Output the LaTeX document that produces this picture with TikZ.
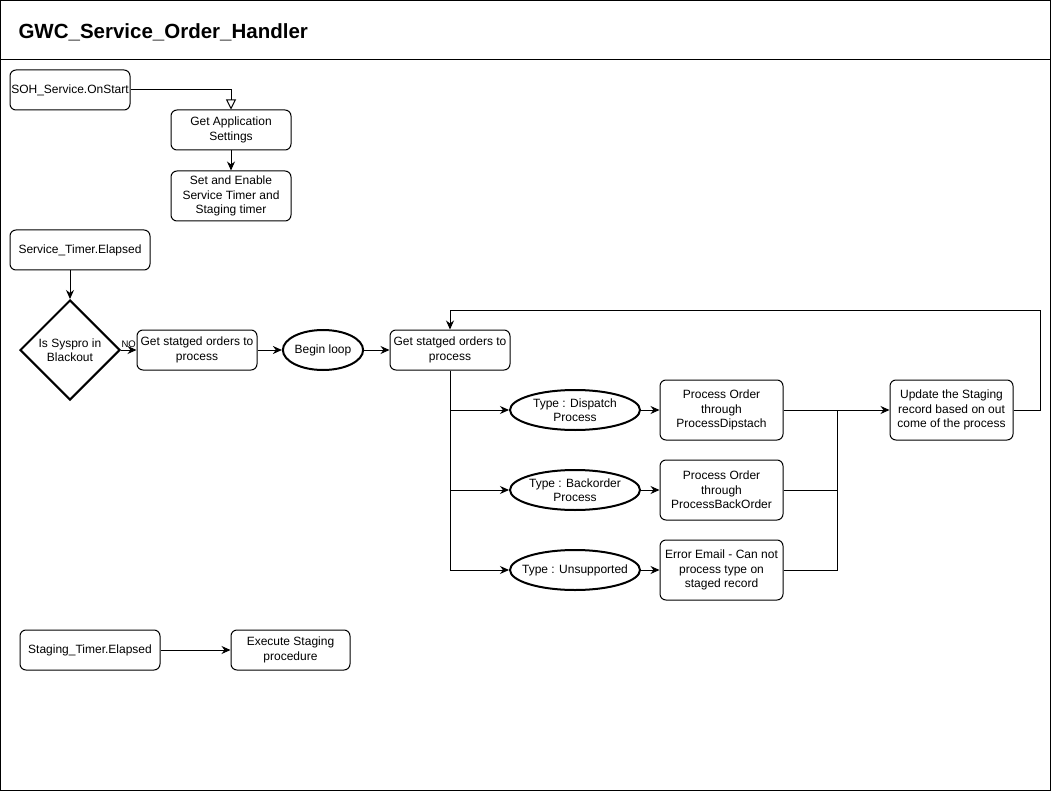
\documentclass[tikz,border=0pt]{standalone}
\usepackage{fontspec}
\setmainfont{Liberation Sans}
\usepackage{tikz}
\usetikzlibrary{arrows.meta,positioning,calc,shapes.geometric}
\definecolor{lineC}{RGB}{0,0,0}
\tikzset{
  box/.style={rectangle, rounded corners=6pt, draw=lineC, line width=1pt, fill=white,
              align=center, inner sep=1pt, font=\fontsize{12}{14.5}\selectfont,
              minimum width=120pt, minimum height=40pt},
  oval/.style={ellipse, draw=lineC, line width=2pt, fill=white, align=center, inner sep=0pt,
               font=\fontsize{12}{14.5}\selectfont, minimum width=130pt, minimum height=40pt},
  decision/.style={diamond, draw=lineC, line width=2pt, fill=white, align=center, inner sep=0pt,
                   font=\fontsize{12}{14.5}\selectfont, minimum width=100pt, minimum height=100pt},
  arr/.style={-{Stealth[length=9pt,width=8pt]}, line width=1pt, draw=lineC},
  openarr/.style={-{Triangle[open,length=10pt,width=10pt]}, line width=1pt, draw=lineC},
  link/.style={line width=1pt, draw=lineC},
}
\begin{document}
\begin{tikzpicture}[x=1pt, y=-1pt, node distance=20pt]
  \useasboundingbox (0,0) rectangle (1051,791);
  \draw[link] (0.5,0.5) rectangle (1050.5,790.5);
  \draw[link] (0.5,60) -- (1050.5,60);
  \node[anchor=west, font=\fontsize{20.5}{24}\selectfont\bfseries] (title) at (15,32) {GWC\_Service\_Order\_Handler};

  % start-up
  \node[box] (onstart) at (70,90) {SOH\_Service.OnStart};
  \node[box] (settings) at (231,130) {Get Application\\Settings};
  \node[box, minimum height=50pt, below=of settings] (enable) {Set and Enable\\Service Timer and\\Staging timer};
  \draw[openarr] (onstart.east) -| (settings.north);
  \draw[arr] (settings) -- (enable);

  % service timer
  \node[box, minimum width=140pt] (svctimer) at (80,250) {Service\_Timer.Elapsed};
  \node[decision] (blackout) at (70,350) {Is Syspro in\\Blackout};
  \node[box] (fetch) at (197,350) {Get statged orders to\\process};
  \node[oval, minimum width=80pt] (beginloop) at (323,350) {Begin loop};
  \node[box] (fetchtwo) at (450,350) {Get statged orders to\\process};
  \draw[arr] (blackout.north |- svctimer.south) -- (blackout.north);
  \draw[arr] (blackout.east) -- (fetch.west) node[pos=0, anchor=south west, inner sep=0pt, yshift=2pt,
    font=\fontsize{9.5}{11}\selectfont] {NO};
  \draw[arr] (fetch) -- (beginloop);
  \draw[arr] (beginloop) -- (fetchtwo);

  % order types
  \node[oval] (dispatch) at (575,410) {Type : Dispatch\\Process};
  \node[oval] (backorder) at (575,490) {Type : Backorder\\Process};
  \node[oval, inner xsep=-13pt] (unsupported) at (575,570) {Type : Unsupported};
  \node[box, minimum width=123pt, minimum height=60pt] (procdispatch) at (721.5,410) {Process Order\\through\\ProcessDipstach};
  \node[box, minimum width=123pt, minimum height=60pt] (procback) at (721.5,490) {Process Order\\through\\ProcessBackOrder};
  \node[box, minimum width=123pt, minimum height=60pt] (procerror) at (721.5,570) {Error Email - Can not\\process type on\\staged record};
  \node[box, minimum width=123pt, minimum height=60pt] (update) at (951.5,410) {Update the Staging\\record based on out\\come of the process};
  \coordinate (merge) at (837,410);
  \coordinate (looptop) at (1040,310);
  \draw[arr] (fetchtwo.south) |- (dispatch.west);
  \draw[arr] (fetchtwo.south) |- (backorder.west);
  \draw[arr] (fetchtwo.south) |- (unsupported.west);
  \draw[arr] (dispatch) -- (procdispatch);
  \draw[arr] (backorder) -- (procback);
  \draw[arr] (unsupported) -- (procerror);
  \draw[arr] (procdispatch) -- (update);
  \draw[link] (procback.east) -| (merge);
  \draw[link] (procerror.east) -| (merge);
  \draw[arr] (update.east) -| (looptop) -| (fetchtwo.north);

  % staging timer
  \node[box, minimum width=140pt] (stgtimer) at (90,650) {Staging\_Timer.Elapsed};
  \node[box, minimum width=119pt] (execstage) at (290.5,650) {Execute Staging\\procedure};
  \draw[arr] (stgtimer) -- (execstage);
\end{tikzpicture}
\end{document}
